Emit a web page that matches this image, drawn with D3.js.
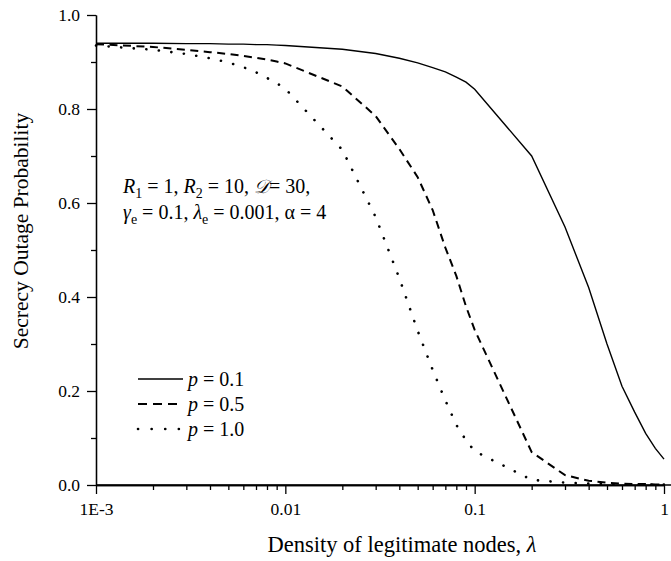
<!DOCTYPE html>
<html>
<head lang="en">
    <meta charset="UTF-8">
    <title> Secrecy outage </title>
    <script type="text/javascript" src="https://cdn.jsdelivr.net/npm/d3@7/dist/d3.min.js"></script>
    <style>
        body { margin: 0; background: #fff; }
    </style>
</head>
<body>
<div id="chart"></div>
<script>

    // density of legitimate nodes (x values)
    var lambdas = [0.001, 0.002, 0.003, 0.004, 0.005, 0.006, 0.007, 0.008, 0.009,
                   0.01, 0.02, 0.03, 0.04, 0.05, 0.06, 0.07, 0.08, 0.09,
                   0.1, 0.2, 0.3, 0.4, 0.5, 0.6, 0.7, 0.8, 0.9, 1];

    // secrecy outage probability
    var p01 = [0.940, 0.940, 0.939, 0.939, 0.938, 0.938, 0.937, 0.937, 0.936,
               0.935, 0.927, 0.918, 0.908, 0.898, 0.888, 0.879, 0.868, 0.857,
               0.842, 0.700, 0.549, 0.420, 0.300, 0.210, 0.155, 0.110, 0.078, 0.055];
    var p05 = [0.938, 0.932, 0.926, 0.921, 0.917, 0.913, 0.909, 0.905, 0.901,
               0.897, 0.848, 0.785, 0.715, 0.655, 0.585, 0.505, 0.445, 0.380,
               0.330, 0.070, 0.021, 0.009, 0.005, 0.003, 0.002, 0.002, 0.001, 0.001];
    var p10 = [0.935, 0.926, 0.917, 0.908, 0.899, 0.889, 0.878, 0.866, 0.855,
               0.843, 0.713, 0.570, 0.440, 0.328, 0.245, 0.180, 0.128, 0.095,
               0.072, 0.011, 0.005, 0.003, 0.002, 0.001, 0.001, 0.001, 0.001, 0.001];

    var seriesNames = ["0.1", "0.5", "1.0"];
    var seriesDash  = [null, "8,5.5", "0.1,12.5"];
    var seriesWidth = [1.4, 2, 2.6];

    var yMajor = [0, 0.2, 0.4, 0.6, 0.8, 1.0];
    var yMinor = [0.1, 0.3, 0.5, 0.7, 0.9];
    var xMajor = [0.001, 0.01, 0.1, 1];
    var xLabels = ["1E-3", "0.01", "0.1", "1"];

    var FONT = "'Liberation Serif', 'Times New Roman', Times, serif";
    var W = 671, H = 561;
    var svg = d3.select("#chart").append("svg")
            .attr("width", W)
            .attr("height", H)
            .attr("font-family", FONT);

    var x = d3.scaleLog().domain([0.001, 1]).range([96, 664]);
    var y = d3.scaleLinear().domain([0, 1]).range([485, 15]);

    var xMinor = [];
    [0.001, 0.01, 0.1].forEach(function (dec) {
        for (var k = 2; k <= 9; k++) xMinor.push(dec * k);
    });

    function styleAxis(g) {
        g.attr("font-size", 17.5).attr("font-family", FONT);
        g.selectAll("path, line").attr("stroke", "#000").attr("stroke-width", 1.3);
        g.selectAll("text").attr("fill", "#000");
    }

    // y axis
    svg.append("g").attr("transform", "translate(96,0)")
            .call(d3.axisLeft(y).tickValues(yMinor).tickSize(5).tickSizeOuter(0).tickFormat(""))
            .call(styleAxis);
    svg.append("g").attr("transform", "translate(96,0)")
            .call(d3.axisLeft(y).tickValues(yMajor).tickSize(9).tickSizeOuter(0).tickPadding(7)
                    .tickFormat(d3.format(".1f")))
            .call(styleAxis);

    // x axis
    svg.append("g").attr("transform", "translate(0,485)")
            .call(d3.axisBottom(x).tickValues(xMinor).tickSize(5).tickSizeOuter(0).tickFormat(""))
            .call(styleAxis);
    svg.append("g").attr("transform", "translate(0,485)")
            .call(d3.axisBottom(x).tickValues(xMajor).tickSize(9).tickSizeOuter(0).tickPadding(9)
                    .tickFormat(function (d, i) { return xLabels[i]; }))
            .call(styleAxis);
    // axis line runs a little past the last tick
    svg.append("line")
            .attr("x1", 96).attr("x2", W)
            .attr("y1", 485).attr("y2", 485)
            .attr("stroke", "#000").attr("stroke-width", 1.3);

    // axis titles
    svg.append("text")
            .attr("x", 402).attr("y", 552)
            .attr("text-anchor", "middle")
            .attr("font-size", 22.5)
            .html('Density of legitimate nodes, <tspan font-style="italic">λ</tspan>');

    svg.append("text")
            .attr("transform", "translate(28,231) rotate(-90)")
            .attr("text-anchor", "middle")
            .attr("font-size", 21.5)
            .text("Secrecy Outage Probability");

    // curves
    var line = d3.line()
            .x(function (d) { return x(d[0]); })
            .y(function (d) { return y(d[1]); });

    [p01, p05, p10].forEach(function (vals, i) {
        var pts = lambdas.map(function (l, j) { return [l, vals[j]]; });
        svg.append("path")
                .datum(pts)
                .attr("d", line)
                .attr("fill", "none")
                .attr("stroke", "#000")
                .attr("stroke-width", seriesWidth[i])
                .attr("stroke-linecap", i == 2 ? "round" : "butt")
                .attr("stroke-dasharray", seriesDash[i]);
    });

    // parameter note
    var note = svg.append("g").attr("font-size", 20);
    note.append("text").attr("x", 123).attr("y", 193)
            .html('<tspan font-style="italic">R</tspan><tspan dy="5" font-size="14">1</tspan>' +
                  '<tspan dy="-5"> = 1, </tspan><tspan font-style="italic">R</tspan>' +
                  '<tspan dy="5" font-size="14">2</tspan><tspan dy="-5"> = 10, </tspan>' +
                  '<tspan font-style="italic" font-size="19">𝒟</tspan><tspan>= 30,</tspan>');
    note.append("text").attr("x", 123).attr("y", 219)
            .html('<tspan font-style="italic">γ</tspan><tspan dy="5" font-size="14">e</tspan>' +
                  '<tspan dy="-5"> = 0.1, </tspan><tspan font-style="italic">λ</tspan>' +
                  '<tspan dy="5" font-size="14">e</tspan><tspan dy="-5"> = 0.001, α = 4</tspan>');

    // legend
    var legend = svg.append("g");
    seriesNames.forEach(function (name, i) {
        var ly = 379 + i * 25;
        legend.append("line")
                .attr("x1", 138).attr("x2", 183)
                .attr("y1", ly).attr("y2", ly)
                .attr("stroke", "#000")
                .attr("stroke-width", seriesWidth[i])
                .attr("stroke-linecap", i == 2 ? "round" : "butt")
                .attr("stroke-dasharray", i == 1 ? "9,6" : (i == 2 ? "0.1,13.5" : null));
        legend.append("text")
                .attr("x", 188).attr("y", ly + 7)
                .attr("font-size", 20)
                .html('<tspan font-style="italic">p</tspan> = ' + name);
    });

</script>
</body>
</html>
